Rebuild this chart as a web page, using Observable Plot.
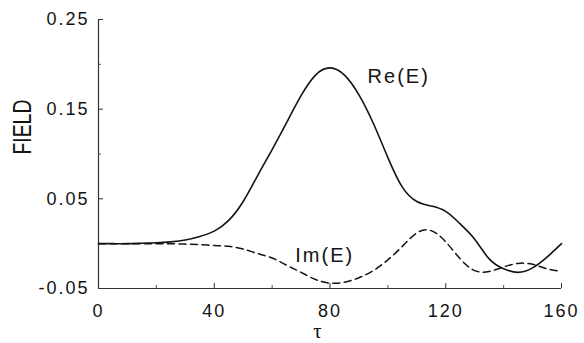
<!DOCTYPE html>
<html>
<head>
<meta charset="utf-8">
<script src="https://cdn.jsdelivr.net/npm/d3@7"></script>
<script src="https://cdn.jsdelivr.net/npm/@observablehq/plot@0.6"></script>
<style>
  html, body { margin: 0; padding: 0; background: #fff; }
  #chart { width: 584px; height: 343px; }
</style>
</head>
<body>
<div id="chart"></div>
<script>
// time axis values (tau), step 5
const tau = [0, 5, 10, 15, 20, 25, 30, 35, 40, 45, 50, 55, 60, 65, 70, 75, 80, 85, 90, 95, 100, 105, 110, 115, 120, 125, 130, 135, 140, 145, 150, 155, 160];
const reE = [0, 0, 0, 0.0005, 0.001, 0.002, 0.004, 0.008, 0.014, 0.026, 0.047, 0.076, 0.105, 0.135, 0.165, 0.188, 0.196, 0.188, 0.166, 0.134, 0.096, 0.063, 0.047, 0.042, 0.036, 0.022, 0.005, -0.017, -0.028, -0.032, -0.027, -0.015, 0.0];
const imE = [0, 0, 0, 0, 0, 0, -0.0005, -0.001, -0.002, -0.003, -0.006, -0.011, -0.016, -0.024, -0.032, -0.040, -0.044, -0.043, -0.038, -0.030, -0.018, -0.003, 0.012, 0.0145, 0.002, -0.017, -0.030, -0.031, -0.026, -0.022, -0.023, -0.028, -0.031];

const xTicks = [0, 40, 80, 120, 160];
const xTickLabels = ["0", "40", "80", "120", "160"];
const xMinorTicks = [20, 60, 100, 140];
const yTicks = [-0.05, 0.05, 0.15, 0.25];
const yTickLabels = ["-0.05", "0.05", "0.15", "0.25"];
const yMinorTicks = [0.0, 0.10, 0.20];

const curveLabels = [
  {text: "Re(E)", tau: 93, value: 0.186},
  {text: "Im(E)", tau: 68, value: -0.013}
];
const yTitle = "FIELD";
const xTitle = "τ";

const reData = tau.map((t, i) => ({tau: t, v: reE[i]}));
const imData = tau.map((t, i) => ({tau: t, v: imE[i]}));

const ink = "#141414";
const font = "'Liberation Sans', Arial, Helvetica, sans-serif";

const chart = Plot.plot({
  width: 584,
  height: 343,
  marginLeft: 98,
  marginRight: 23,
  marginTop: 19,
  marginBottom: 55,
  style: {fontFamily: font, fontSize: "18px", color: ink, background: "#fff", letterSpacing: "2px"},
  x: {domain: [0, 160], ticks: xTicks, tickSize: 0, tickPadding: 16,
      tickFormat: d => xTickLabels[xTicks.indexOf(d)], label: null},
  y: {domain: [-0.05, 0.25], ticks: yTicks, tickSize: 0, tickPadding: 9,
      tickFormat: d => yTickLabels[yTicks.findIndex(t => Math.abs(t - d) < 1e-9)], label: null},
  marks: [
    // frame (left and bottom axis lines)
    Plot.ruleX([0], {stroke: "#333", strokeWidth: 1.2}),
    Plot.ruleY([-0.05], {stroke: "#333", strokeWidth: 1.2}),
    // inward ticks on x
    Plot.ruleX(xTicks, {x: d => d, y1: -0.05, y2: -0.05, insetBottom: 5, stroke: "#333"}),
    Plot.ruleX(xMinorTicks, {x: d => d, y1: -0.05, y2: -0.05, insetBottom: 3, stroke: "#555"}),
    // inward ticks on y
    Plot.ruleY(yTicks, {y: d => d, x1: 0, x2: 0, insetRight: -5, stroke: "#333"}),
    Plot.ruleY(yMinorTicks, {y: d => d, x1: 0, x2: 0, insetRight: -3, stroke: "#555"}),
    // curves
    Plot.line(reData, {x: "tau", y: "v", curve: "natural", stroke: ink, strokeWidth: 1.6}),
    Plot.line(imData, {x: "tau", y: "v", curve: "natural", stroke: ink, strokeWidth: 1.5, strokeDasharray: "7,4.5"}),
    // curve labels
    Plot.text(curveLabels, {x: "tau", y: "value", text: "text", textAnchor: "start",
      fontSize: 20, fill: ink, fontFamily: font}),
    // axis titles
    Plot.text([yTitle], {x: 0, y: 0.13, dx: -76, rotate: -90, text: d => d, fontSize: 26,
      fill: ink, fontFamily: font, className: "ytitle"}),
    Plot.text([xTitle], {x: 76, y: -0.05, dy: 43, text: d => d, fontSize: 21,
      fill: ink, fontFamily: "'Liberation Serif', 'DejaVu Serif', serif"})
  ]
});

document.getElementById("chart").appendChild(chart);

// compress the rotated title to match the condensed lettering of the original
d3.select(chart).selectAll(".ytitle text")
  .attr("textLength", 55)
  .attr("lengthAdjust", "spacingAndGlyphs")
  .style("letter-spacing", "0px");
</script>
</body>
</html>
